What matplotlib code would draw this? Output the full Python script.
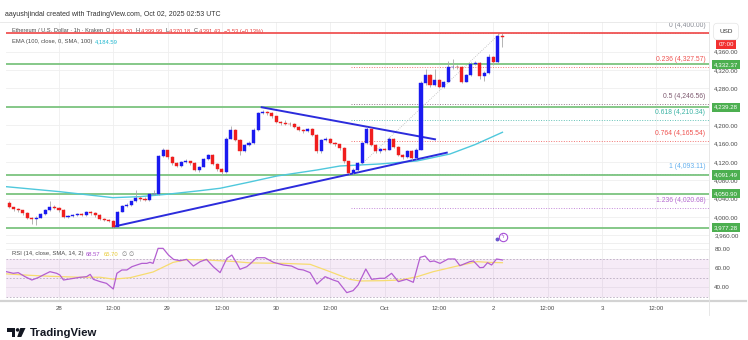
import matplotlib.pyplot as plt
import matplotlib.patches as mpatches
import matplotlib.transforms as mtransforms
from matplotlib.lines import Line2D
import numpy as np

plt.rcParams['font.family'] = ['Liberation Sans', 'DejaVu Sans']

W, H = 748, 340

# ETH/USD 1h candles (Kraken), hour 0 = 28 Sep 2025 00:00 UTC
hours = list(range(-11, 99))
opens = [4031, 4021, 4017, 4015, 4008, 3999, 3995, 3999, 4007, 4016,
         4023, 4019, 4015, 4001, 4002, 4004, 4006, 4005, 4011, 4008,
         4004, 3996, 3994, 3992, 3978, 4012, 4024, 4027, 4034, 4041,
         4039, 4038, 4050, 4050, 4133, 4145, 4130, 4117, 4112, 4120,
         4121, 4117, 4103, 4110, 4126, 4135, 4116, 4104, 4099, 4171,
         4190, 4168, 4143, 4157, 4162, 4190, 4226, 4228, 4226, 4219,
         4208, 4204, 4203, 4202, 4197, 4190, 4187, 4191, 4179, 4143,
         4168, 4170, 4162, 4158, 4150, 4121, 4097, 4103, 4117, 4161,
         4191, 4157, 4143, 4148, 4147, 4171, 4153, 4135, 4130, 4144,
         4128, 4147, 4291, 4310, 4287, 4298, 4284, 4295, 4326, 4327,
         4326, 4295, 4309, 4334, 4336, 4307, 4314, 4349, 4338, 4394.20]
highs = [4034, 4023, 4019, 4016, 4010, 4001, 4002, 4009, 4018, 4034,
         4026, 4021, 4017, 4005, 4006, 4009, 4008, 4013, 4013, 4010,
         4006, 3998, 3996, 3994, 4014, 4026, 4030, 4036, 4059, 4046,
         4043, 4053, 4060, 4136, 4150, 4147, 4132, 4119, 4123, 4127,
         4123, 4119, 4112, 4128, 4138, 4137, 4118, 4106, 4174, 4198,
         4192, 4170, 4159, 4165, 4193, 4229, 4233, 4231, 4228, 4221,
         4210, 4212, 4206, 4204, 4199, 4192, 4194, 4193, 4181, 4171,
         4174, 4172, 4164, 4160, 4152, 4123, 4106, 4119, 4164, 4197,
         4193, 4159, 4151, 4150, 4175, 4173, 4155, 4137, 4147, 4146,
         4150, 4296, 4323, 4312, 4322, 4300, 4297, 4340, 4345, 4332,
         4328, 4312, 4337, 4340, 4338, 4317, 4356, 4351, 4400.00, 4399.99]
lows = [4019, 4014, 4012, 4005, 3996, 3984, 3983, 3997, 4005, 4014,
        4017, 4012, 3999, 3998, 4000, 4002, 4002, 4003, 4005, 4001,
        3994, 3991, 3989, 3976, 3977, 4010, 4021, 4025, 4032, 4036,
        4035, 4036, 4047, 4048, 4130, 4127, 4114, 4109, 4110, 4117,
        4114, 4100, 4099, 4108, 4124, 4113, 4101, 4091, 4097, 4169,
        4165, 4135, 4141, 4155, 4160, 4188, 4224, 4222, 4216, 4205,
        4200, 4200, 4199, 4194, 4187, 4184, 4185, 4176, 4139, 4140,
        4165, 4159, 4155, 4147, 4118, 4094, 4093.11, 4101, 4115, 4159,
        4154, 4140, 4140, 4144, 4145, 4150, 4132, 4127, 4128, 4125,
        4126, 4145, 4288, 4284, 4285, 4281, 4282, 4293, 4323, 4322,
        4292, 4293, 4307, 4331, 4300, 4296, 4312, 4330, 4336, 4370.18]
closes = [4021, 4017, 4015, 4008, 3999, 3995, 3999, 4007, 4016, 4023,
          4019, 4015, 4001, 4002, 4004, 4006, 4005, 4011, 4008, 4004,
          3996, 3994, 3992, 3978, 4012, 4024, 4027, 4034, 4041, 4039,
          4038, 4050, 4050, 4133, 4145, 4130, 4117, 4112, 4120, 4121,
          4117, 4103, 4110, 4126, 4135, 4116, 4104, 4099, 4171, 4190,
          4168, 4143, 4157, 4162, 4190, 4226, 4228, 4226, 4219, 4208,
          4204, 4203, 4202, 4197, 4190, 4187, 4191, 4179, 4143, 4168,
          4170, 4162, 4158, 4150, 4121, 4097, 4103, 4117, 4161, 4191,
          4157, 4143, 4148, 4147, 4171, 4153, 4135, 4130, 4144, 4128,
          4147, 4291, 4310, 4287, 4298, 4284, 4295, 4326, 4327, 4326,
          4295, 4309, 4334, 4336, 4307, 4314, 4349, 4338, 4394.20, 4391.43]

# EMA(100)
ema_hours = [-11.7, 0.2, 11.9, 17.9, 23.9, 31.2, 35.6, 42.0, 48.2, 57.0,
             62.1, 70.9, 79.1, 86.4, 92.0, 98.0]
ema_vals = [4066.2, 4055.3, 4042.3, 4044.5, 4049.7, 4057.5, 4062.7, 4076.0,
            4089.5, 4102.5, 4111.2, 4115.6, 4122.1, 4137.3, 4158.0, 4184.59]

# RSI(14) and its SMA(14)
rsi_hours = [-11.6, -10.1, -9.0, -7.5, -6.0, -4.6, -3.5, -2.0, -0.5, 0.2,
             1.0, 2.4, 4.6, 6.1, 6.9, 7.6, 9.1, 10.5, 12.0, 12.8,
             13.9, 15.0, 16.1, 17.2, 18.3, 19.4, 20.1, 20.8, 21.9, 23.0,
             24.2, 25.3, 26.7, 28.2, 29.7, 31.2, 32.6, 34.1, 35.6, 37.1,
             38.2, 39.3, 40.0, 41.5, 42.2, 43.7, 45.5, 47.4, 49.6, 51.4,
             52.9, 54.0, 55.5, 57.0, 58.8, 60.6, 61.7, 63.6, 65.0, 66.1,
             67.8, 69.1, 70.9, 72.0, 73.5, 75.0, 76.8, 78.3, 79.8, 80.9,
             82.0, 82.9, 84.2, 86.0, 87.5, 88.6, 90.8, 91.6, 93.0, 93.8,
             94.7, 95.6, 96.7, 98.0]
rsi_vals = [56.3, 54.6, 55.3, 51.1, 47.6, 50.1, 52.8, 56.3, 54.6, 52.8,
            47.6, 48.7, 50.4, 51.1, 53.5, 48.3, 45.9, 44.1, 38.2, 54.6,
            58.1, 58.1, 61.5, 63.3, 65.0, 65.0, 66.1, 65.0, 80.7, 80.7,
            73.7, 69.2, 67.8, 69.2, 62.2, 66.8, 69.2, 61.5, 55.3, 70.2,
            73.7, 65.0, 58.8, 61.5, 64.3, 70.9, 70.9, 66.1, 63.3, 62.2,
            58.8, 58.1, 55.3, 43.4, 51.1, 47.6, 45.9, 34.4, 36.5, 42.4,
            59.1, 48.3, 49.4, 49.4, 54.6, 45.9, 48.3, 45.2, 71.3, 72.7,
            66.8, 67.5, 65.0, 69.6, 69.6, 62.6, 66.8, 67.5, 60.5, 60.8,
            65.7, 63.3, 69.6, 68.57]
sma_hours = [-11.6, -6.4, -2.0, 4.6, 9.1, 12.0, 15.7, 20.8, 25.2, 28.3,
             32.7, 38.5, 42.2, 49.5, 55.5, 59.9, 64.3, 66.5, 71.6, 75.4,
             79.1, 82.7, 88.0, 92.4, 95.2, 98.0]
sma_vals = [54.0, 52.5, 51.5, 50.5, 50.5, 48.5, 50.0, 56.0, 66.0, 69.0,
            68.5, 67.0, 65.5, 65.0, 64.0, 56.3, 48.3, 46.6, 46.9, 47.6,
            51.0, 56.3, 62.2, 66.8, 66.0, 65.70]

resistance = 4400.00
supports = [4332.37, 4239.28, 4091.49, 4050.90, 3977.28]

fib_ratios = ['0', '0.236', '0.5', '0.618', '0.764', '1', '1.236']
fib_prices = [4400.00, 4327.57, 4246.56, 4210.34, 4165.54, 4093.11, 4020.68]
fib_colors = ['#8a8d96', '#ef5350', '#7e5a70', '#3bb3a4', '#ef5350', '#64b0ee', '#b46ad0']
fib_start = 64.5
fib_swing_hours = [64.5, 97.5]

trend_up_hours = [12.0, 85.7]
trend_up_prices = [3979.1, 4140.2]
trend_down_hours = [44.8, 83.1]
trend_down_prices = [4239.0, 4169.3]

price_ticks = list(range(3960, 4361, 40))
rsi_ticks = [40, 60, 80]
date_ticks = list(range(0, 133, 12))
date_labels = ['28', '12:00', '29', '12:00', '30', '12:00', 'Oct', '12:00',
               '2', '12:00', '3', '12:00']

UP = '#1a1af0'
DOWN = '#f01e1e'
GREEN_LINE = '#7cc47f'
GREEN_BOX = '#4caf50'
RED_LINE = '#f05454'
TREND = '#2c2cdc'
EMA_COLOR = '#4fc8dc'
TXT = '#4a4a4a'
VAL_RED = '#e53935'
GRID = '#efefef'


def fx(px):
    return px / W


def fy(py):
    return 1 - py / H


fig = plt.figure(figsize=(W / 100, H / 100), dpi=100)
fig.patch.set_facecolor('white')
renderer = fig.canvas.get_renderer()

ax = fig.add_axes([fx(6), fy(243), (709 - 6) / W, (243 - 22) / H])
axr = fig.add_axes([fx(6), fy(300), (709 - 6) / W, (300 - 243) / H])

xmin, xmax = -11.71, 143.65
for a in (ax, axr):
    a.set_xlim(xmin, xmax)
    a.set_facecolor('white')
    for s in a.spines.values():
        s.set_visible(False)
    a.set_xticks(date_ticks)
    a.grid(True, color=GRID, lw=0.6, zorder=0)
    a.set_axisbelow(True)
    a.yaxis.tick_right()
    a.tick_params(axis='both', length=0, labelsize=4.5, colors=TXT)

ax.set_ylim(3943.6, 4424.6)
ax.set_yticks(price_ticks)
ax.set_yticklabels([f'{v:,.2f}' for v in price_ticks])
ax.tick_params(axis='y', pad=3.8)
ax.tick_params(axis='x', labelbottom=False)

axr.set_ylim(26.7, 86.3)
axr.set_yticks(rsi_ticks)
axr.set_yticklabels([f'{v:.2f}' for v in rsi_ticks])
axr.tick_params(axis='y', pad=3.8)
axr.set_xticklabels(date_labels)
axr.tick_params(axis='x', pad=4.0, labelsize=4.4)

# fibonacci retracement
for ratio, price, col in zip(fib_ratios, fib_prices, fib_colors):
    ax.hlines(price, fib_start, xmax, colors=col, lw=0.7,
              linestyles=(0, (1, 1.6)), alpha=0.8, zorder=1)
    ax.annotate(f'{ratio} ({price:,.2f})', xy=(142.8, price), xytext=(0, 5.4),
                textcoords='offset points', ha='right', va='center',
                fontsize=4.9, color=col, zorder=1)
ax.plot(fib_swing_hours, [fib_prices[-2], fib_prices[0]], color='#b8b8b8',
        lw=0.6, ls=(0, (1, 1.6)), zorder=1)

# horizontal levels
for lvl in supports:
    ax.axhline(lvl, color=GREEN_LINE, lw=1.3, zorder=2)
ax.axhline(resistance, color=RED_LINE, lw=1.3, zorder=5)

# EMA and trend lines
ax.plot(ema_hours, ema_vals, color=EMA_COLOR, lw=1.0, zorder=2.5)
ax.plot(trend_up_hours, trend_up_prices, color=TREND, lw=1.4, zorder=3)
ax.plot(trend_down_hours, trend_down_prices, color=TREND, lw=1.4, zorder=3)

# candles
o = np.array(opens, dtype=float)
c = np.array(closes, dtype=float)
colors = [UP if ci >= oi else DOWN for oi, ci in zip(o, c)]
body = np.maximum(np.abs(c - o), 1.0)
ax.vlines(hours, lows, highs, color='#a8a8a8', lw=0.6, zorder=3.5)
ax.bar(hours, body, bottom=np.minimum(o, c), width=0.68, color=colors,
       edgecolor=colors, linewidth=0.3, zorder=4)

# event marker near the last bar
ax.plot([96.7], [3952.3], 'o', ms=1.8, color='#6a5acd', zorder=6, clip_on=False)
ax.plot([98.1], [3957.3], 'o', ms=6.0, mfc='white', mec='#a64fd6', mew=0.8,
        zorder=6, clip_on=False)
ax.text(98.1, 3957.3, 'ϟ', fontsize=4.2, color='#a64fd6', ha='center',
        va='center', zorder=7, family='DejaVu Sans')

# price labels on the scale
scale_tr = mtransforms.blended_transform_factory(fig.transFigure, ax.transData)
for lvl in supports:
    ax.text(fx(726), lvl, f'{lvl:,.2f}', transform=scale_tr, fontsize=4.4,
            color='white', ha='center', va='center', zorder=8, clip_on=False,
            bbox=dict(boxstyle='square,pad=0.35', fc=GREEN_BOX, ec='none'))

fig.text(fx(726), fy(44.8), '07:00', fontsize=4.4, color='white', ha='center',
         va='center', bbox=dict(boxstyle='square,pad=0.35', fc='#f23030', ec='none'))
fig.text(fx(726), fy(31.5), 'USD', fontsize=4.6, color='#333333', ha='center',
         va='center', bbox=dict(boxstyle='round,pad=0.9,rounding_size=0.6',
                                fc='white', ec='#e4e4e4', lw=0.5))

# RSI pane
axr.axhspan(30, 70, color='#9c27b0', alpha=0.09, lw=0, zorder=1)
for lvl in (30, 50, 70):
    axr.axhline(lvl, color='#b9acc0', lw=0.6, ls=(0, (2, 2)), zorder=1.5)
axr.plot(sma_hours, sma_vals, color='#f7dc6f', lw=0.9, zorder=2)
axr.plot(rsi_hours, rsi_vals, color='#b35ed1', lw=0.9, zorder=3)

# frame lines
fig.add_artist(Line2D([0, fx(709)], [fy(22), fy(22)], color='#e6e6e6', lw=0.6))
fig.add_artist(Line2D([fx(6), fx(709)], [fy(243), fy(243)], color='#ececec', lw=0.6))
fig.add_artist(Line2D([0, fx(746)], [fy(300.5), fy(300.5)], color='#d3d3d3', lw=1.6))
fig.add_artist(Line2D([fx(709), fx(709)], [fy(315), fy(22)], color='#e3e3e3', lw=0.6))

# header and legends
fig.text(fx(5), fy(15), 'aayushjindal created with TradingView.com, Oct 02, 2025 02:53 UTC',
         fontsize=5.0, color='#333333', va='center')


def text_row(x0, y, pieces, size, host):
    """Write (text, colour, gap_after_px) pieces one after another on a row."""
    x = x0
    for s, col, gap in pieces:
        kw = dict(fontsize=size, color=col, va='center')
        if '∅' in s:
            kw['family'] = 'DejaVu Sans'
        if host is fig:
            t = fig.text(fx(x), fy(y), s, **kw)
        else:
            t = host.text(fx(x), fy(y), s, transform=fig.transFigure, zorder=1.2, **kw)
        bb = t.get_window_extent(renderer)
        x = bb.x1 + gap


text_row(11.5, 31, [('Ethereum / U.S. Dollar · 1h · Kraken', TXT, 3.5),
                    ('O', TXT, 0.3), ('4,394.20', VAL_RED, 3),
                    ('H', TXT, 0.3), ('4,399.99', VAL_RED, 3),
                    ('L', TXT, 0.3), ('4,370.18', VAL_RED, 3),
                    ('C', TXT, 0.3), ('4,391.43', VAL_RED, 3),
                    ('−5.53 (−0.13%)', VAL_RED, 0)], 4.1, ax)
text_row(11.5, 42, [('EMA (100, close, 0, SMA, 100)', TXT, 3),
                    ('4,184.59', '#22b8d0', 0)], 4.2, ax)
text_row(11.5, 254, [('RSI (14, close, SMA, 14, 2)', TXT, 3),
                     ('68.57', '#a84fcc', 3), ('65.70', '#e8c930', 3),
                     ('∅', '#777777', 2.5), ('∅', '#777777', 0)], 4.2, fig)

# TradingView logo
def poly(pts, color):
    fig.add_artist(mpatches.Polygon([(fx(x), fy(y)) for x, y in pts], closed=True,
                                    transform=fig.transFigure, fc=color, ec='none'))


LOGO = '#131722'
poly([(7, 328), (15, 328), (15, 337), (11.5, 337), (11.5, 331.5), (7, 331.5)], LOGO)
fig.add_artist(mpatches.Ellipse((fx(17.6), fy(329.9)), 3.6 / W, 3.6 / H,
                                transform=fig.transFigure, fc=LOGO, ec='none'))
poly([(20.3, 328), (25.5, 328), (21.3, 337), (17.2, 337)], LOGO)
fig.text(fx(29.5), fy(332.8), 'TradingView', fontsize=8.2, fontweight='bold',
         color=LOGO, va='center')

fig.savefig('out.png', dpi=100, facecolor='white')
